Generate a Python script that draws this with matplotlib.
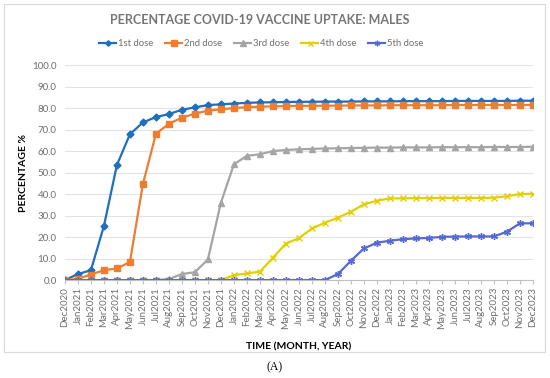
import numpy as np
import matplotlib
matplotlib.use("Agg")
import matplotlib.pyplot as plt
from matplotlib.patches import Rectangle

months = ["Dec2020"]
for yr in [2021, 2022, 2023]:
    for m in ["Jan", "Feb", "Mar", "Apr", "May", "Jun", "Jul", "Aug", "Sep", "Oct", "Nov", "Dec"]:
        months.append(m + str(yr))

dose1 = [0.0, 2.8, 4.6, 25.1, 53.5, 67.8, 73.3, 75.8, 77.2, 79.2, 80.3, 81.4, 81.7,
         82.1, 82.4, 82.6, 82.7, 82.8, 82.9, 82.9, 83.0, 83.0, 83.0, 83.1, 83.1,
         83.1, 83.2, 83.2, 83.2, 83.2, 83.3, 83.3, 83.3, 83.3, 83.3, 83.4, 83.4]
dose2 = [0.0, 0.6, 2.6, 4.6, 5.4, 8.4, 44.6, 68.0, 72.7, 75.5, 77.4, 78.8, 79.4,
         80.0, 80.4, 80.6, 80.8, 80.9, 81.0, 81.0, 81.1, 81.1, 81.2, 81.2, 81.2,
         81.3, 81.3, 81.3, 81.3, 81.3, 81.4, 81.4, 81.4, 81.4, 81.4, 81.4, 81.4]
dose3 = [0.0, 0.0, 0.0, 0.0, 0.0, 0.0, 0.0, 0.0, 0.5, 2.8, 3.7, 9.6, 36.0,
         53.8, 57.8, 58.5, 60.0, 60.5, 60.8, 61.0, 61.2, 61.3, 61.4, 61.5, 61.6,
         61.6, 61.7, 61.7, 61.7, 61.8, 61.8, 61.8, 61.8, 61.9, 61.9, 61.9, 62.0]
dose4 = [0.0] * 13 + [2.3, 3.1, 3.9, 10.4, 17.0, 19.5, 24.0, 26.7, 29.0, 31.8, 35.2, 36.9,
                      38.0, 38.0, 38.1, 38.1, 38.2, 38.2, 38.2, 38.2, 38.3, 39.0, 40.0, 40.1]
dose5 = [0.0] * 21 + [2.8, 9.0, 14.7, 17.4,
                      18.3, 19.0, 19.4, 19.6, 20.1, 20.2, 20.3, 20.3, 20.3, 22.5, 26.4, 26.4]

series = [
    ("1st dose", dose1, "#1F6EBF", "D", 3.5),
    ("2nd dose", dose2, "#ED7D31", "s", 5),
    ("3rd dose", dose3, "#A5A5A5", "^", 5),
    ("4th dose", dose4, "#E3CF00", "x", 4.5),
    ("5th dose", dose5, "#5468D6", (6, 2, 0), 5),
]

plt.rcParams["font.family"] = ["Lato", "DejaVu Sans"]

fig = plt.figure(figsize=(5.5, 3.78), dpi=100)
fig.patches.append(Rectangle((4 / 550, 1 - 352 / 378), 541 / 550, 348 / 378,
                             transform=fig.transFigure, fill=False,
                             edgecolor="#D9D9D9", lw=0.8))

ax = fig.add_axes([0.118, 0.259, 0.851, 0.569])
x = np.arange(len(months))
for name, vals, col, mk, ms in series:
    ax.plot(x, vals, color=col, marker=mk, markersize=ms, lw=1.6,
            markeredgewidth=1.0, label=name)

ax.set_xlim(0, len(months) - 1)
ax.set_ylim(0, 100)
ax.set_yticks(np.arange(0, 101, 10))
ax.set_yticklabels([f"{v:.1f}" for v in np.arange(0, 101, 10)])
ax.set_xticks(x)
ax.set_xticklabels(months, rotation=90)
ax.tick_params(axis="y", length=0, labelsize=7, labelcolor="#6E6E6E", pad=6)
ax.tick_params(axis="x", length=3, color="#BFBFBF", labelsize=7, labelcolor="#6E6E6E", pad=2)
ax.grid(axis="y", color="#E3E3E3", lw=0.8)
ax.set_axisbelow(True)
for s in ["top", "right", "left"]:
    ax.spines[s].set_visible(False)
ax.spines["bottom"].set_color("#BFBFBF")

ax.set_ylabel("PERCENTAGE %", fontsize=7.5, fontweight="bold", labelpad=3)
ax.set_xlabel("TIME (MONTH, YEAR)", fontsize=7.5, fontweight="bold", labelpad=10)

fig.text(260 / 550, 1 - 20 / 378, "PERCENTAGE COVID-19 VACCINE UPTAKE: MALES",
         ha="center", va="center", fontsize=9, fontweight="bold", color="#767676")
ax.legend(loc="center", bbox_to_anchor=(0.475, 1 - 44 / 378), bbox_transform=fig.transFigure,
          ncol=5, frameon=False, fontsize=6.8, labelcolor="#6E6E6E",
          handlelength=1.8, columnspacing=1.3, handletextpad=0.15, markerscale=0.8)

fig.text(0.5, 1 - 367 / 378, "(A)", ha="center", va="center", fontsize=8.5,
         family="Liberation Serif")

fig.savefig("out.png", dpi=100)
